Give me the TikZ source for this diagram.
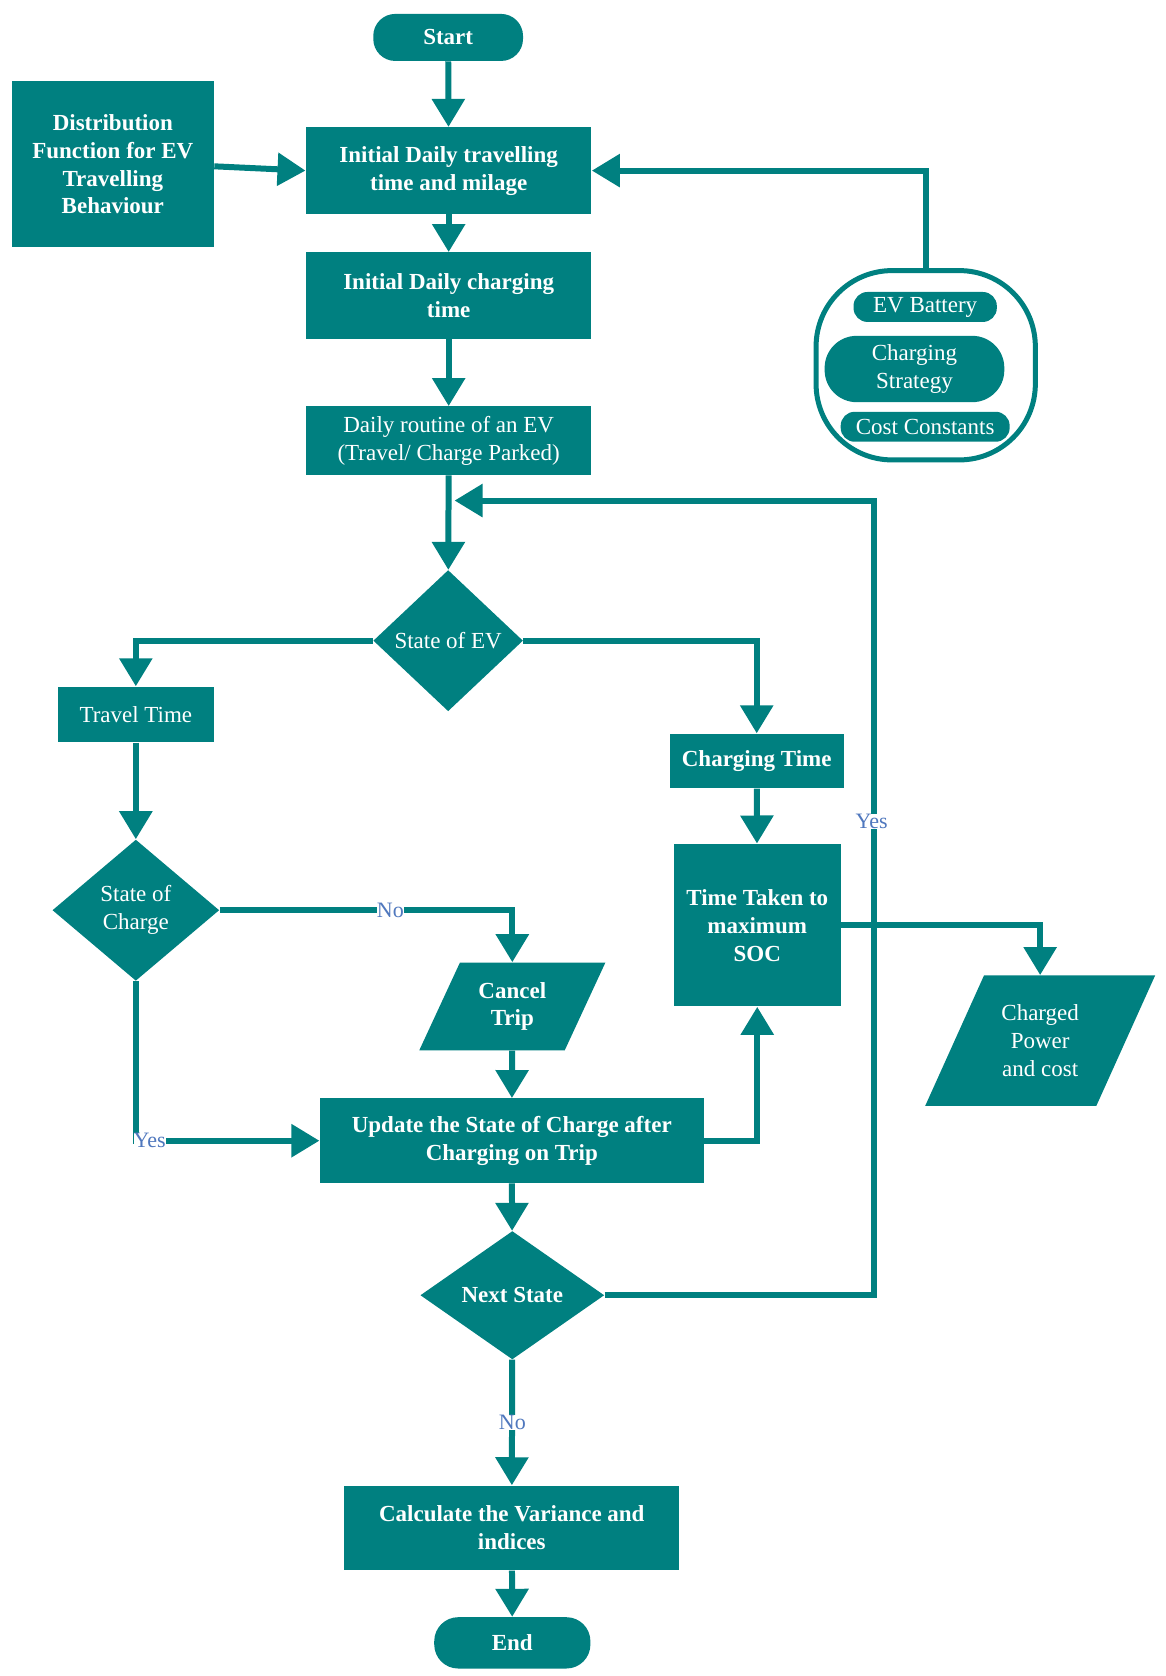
\documentclass[tikz,border=0pt]{standalone}
\usepackage{fontspec}
\setmainfont{Liberation Serif}
\usetikzlibrary{shapes.geometric,arrows.meta}
\definecolor{teal}{RGB}{0,128,128}
\definecolor{lab}{RGB}{80,120,190}
\begin{document}
\begin{tikzpicture}[x=0.535pt,y=-0.535pt,
 every node/.style={font=\fontsize{11.5}{14}\selectfont, text=white, align=center, inner sep=1pt},
 box/.style={fill=teal},
 bb/.style={font=\fontsize{11.5}{14}\selectfont\bfseries},
 term/.style={fill=teal, rounded corners=11pt},
 dia/.style={diamond, fill=teal, aspect=1},
 ar/.style={teal, line width=3pt, -{Triangle[width=16pt,length=14pt]}},
 ln/.style={teal, line width=3pt},
 lbl/.style={text=lab, fill=white, inner sep=0pt, font=\fontsize{11}{13}\selectfont}]
\useasboundingbox (0,0) rectangle (1090,1567);
\def\u{0.535pt}
\node[term,bb,minimum width=140*\u,minimum height=44*\u] (start) at (419,35) {Start};
\node[box,bb,minimum width=189*\u,minimum height=155*\u] (dist) at (105.5,153.5) {Distribution\\Function for EV\\Travelling\\Behaviour};
\node[box,bb,minimum width=267*\u,minimum height=81*\u] (it) at (419.5,159.5) {Initial Daily travelling\\time and milage};
\node[box,bb,minimum width=267*\u,minimum height=81*\u] (ic) at (419.5,276.5) {Initial Daily charging\\time};
\node[box,minimum width=267*\u,minimum height=64*\u] (dr) at (419.5,412) {Daily routine of an EV\\(Travel/ Charge Parked)};
\node[dia,minimum width=140*\u,minimum height=132*\u,inner sep=0pt] (sev) at (419,599) {State of EV};
\node[box,minimum width=146*\u,minimum height=52*\u] (tt) at (127,668) {Travel Time};
\node[box,bb,minimum width=163*\u,minimum height=51*\u] (ct) at (707.5,711.5) {Charging Time};
\node[dia,minimum width=156*\u,minimum height=132*\u,inner sep=0pt] (soc) at (127,851) {State of\\Charge};
\fill[teal] (430,900)--(566,900)--(528,982)--(392,982)--cycle;
\node[bb,minimum width=174*\u,minimum height=82*\u] (cancel) at (479,941) {Cancel\\Trip};
\node[box,bb,minimum width=156*\u,minimum height=152*\u] (tm) at (708,865) {Time Taken to\\maximum\\SOC};
\fill[teal] (920,912)--(1080,912)--(1025,1034)--(865,1034)--cycle;
\node[minimum width=215*\u,minimum height=122*\u] (cp) at (972.5,973) {Charged\\Power\\and cost};
\node[box,bb,minimum width=359*\u,minimum height=79*\u] (up) at (478.5,1066.5) {Update the State of Charge after\\Charging on Trip};
\node[dia,bb,minimum width=172*\u,minimum height=120*\u,inner sep=0pt] (ns) at (479,1211) {Next State};
\node[box,bb,minimum width=313*\u,minimum height=79*\u] (calc) at (478.5,1428.5) {Calculate the Variance and\\indices};
\node[term,bb,minimum width=146*\u,minimum height=48*\u,rounded corners=12pt] (end) at (479,1536) {End};
% container
\node[draw=teal,line width=2.5pt,rounded corners=38pt,minimum width=205*\u,minimum height=177*\u] (cont) at (865.5,341.5) {};
\node[term,minimum width=134*\u,minimum height=28*\u,rounded corners=7pt] (evb) at (865,287) {EV Battery};
\node[term,minimum width=168*\u,minimum height=62*\u,rounded corners=16pt] (cs) at (855,345) {Charging\\Strategy};
\node[term,minimum width=158*\u,minimum height=28*\u,rounded corners=7pt] (cc) at (865,399) {Cost Constants};
% connectors
\draw[ar] (start) -- (it);
\draw[ar] (dist.east) ++(0,2) -- (it.west);
\draw[ar] (cont.north) |- (it.east);
\draw[ar] (it) -- (ic);
\draw[ar] (ic) -- (dr);
\draw[ar] (dr) -- (sev);
\coordinate (lp) at (817,468);
\draw[ar] (ns.east) -| (lp) -- (425,468);
\node[lbl] at (815,768) {Yes};
\draw[ar] (sev.west) -| (tt.north);
\draw[ar] (sev.east) -| (ct.north);
\draw[ar] (tt) -- (soc);
\draw[ar] (soc.east) -| (cancel.north);
\node[lbl] at (365,851) {No};
\draw[ar] (soc.south) |- (up.west);
\node[lbl] at (140,1066) {Yes};
\draw[ar] (ct) -- (tm);
\draw[ar] (cancel) -- (up);
\draw[ar] (up.east) -| (tm.south);
\draw[ar] (tm.east) -| (cp.north);
\draw[ar] (up) -- (ns);
\draw[ar] (ns) -- (calc);
\node[lbl] at (479,1330) {No};
\draw[ar] (calc) -- (end);
\end{tikzpicture}
\end{document}
